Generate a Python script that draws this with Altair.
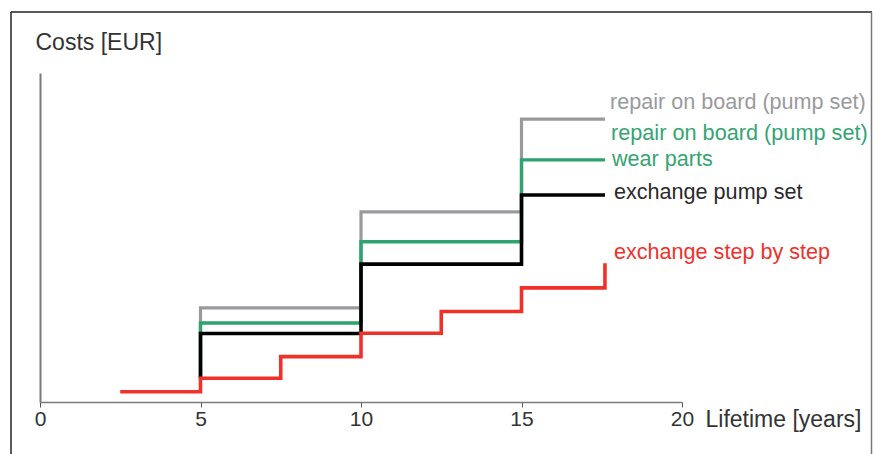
import altair as alt
import pandas as pd

# ---- data ----
gray_x = [5, 5, 10, 15, 17.6]
gray_y = [7.2, 28.6, 57.8, 86.0, 86.0]

green_x = [5, 5, 10, 15, 17.6]
green_y = [7.2, 24.0, 48.7, 73.6, 73.6]

black_x = [5, 5, 10, 15, 17.6]
black_y = [7.2, 20.8, 41.9, 62.9, 62.9]

red_x = [2.5, 5, 7.5, 10, 12.5, 15, 17.6]
red_y = [3.1, 7.2, 13.8, 20.9, 27.5, 34.7, 42.2]

x_ticks = [0, 5, 10, 15, 20]

FONT = "Liberation Sans"
GRAY = "#9a9a9e"
GREEN = "#2ea370"
BLACK = "#000000"
RED = "#f0312a"

W, H = 642, 329
PAD_L, PAD_T, PAD_R, PAD_B = 32, 65, 191, 52

xs = alt.Scale(domain=[0, 20], nice=False, zero=False)
ys = alt.Scale(domain=[0, 100], nice=False)


def series(xv, yv):
    return pd.DataFrame({"x": xv, "y": yv, "o": list(range(len(xv)))})


def step_line(df, color, width, axes=False):
    if axes:
        xenc = alt.X(
            "x:Q", scale=xs,
            axis=alt.Axis(
                values=x_ticks, format="d", grid=False,
                domainColor="#7a7a7a", domainWidth=1.5,
                tickColor="#555", tickSize=5, tickWidth=1,
                labelFont=FONT, labelFontSize=21, labelColor="#333",
                labelBaseline="middle", labelPadding=12,
                labelFlush=False,
                title="Lifetime [years]", titleFont=FONT, titleFontSize=23,
                titleFontWeight="normal", titleColor="#333",
                titleAlign="left", titleBaseline="middle",
                titleAnchor="start", titleX=665, titleY=17,
            ),
        )
        yenc = alt.Y(
            "y:Q", scale=ys,
            axis=alt.Axis(
                grid=False, ticks=False, labels=False,
                domainColor="#7a7a7a", domainWidth=2,
                title="Costs [EUR]", titleFont=FONT, titleFontSize=23,
                titleFontWeight="normal", titleColor="#333",
                titleAngle=0, titleAlign="left", titleBaseline="middle",
                titleX=-5, titleY=-31,
            ),
        )
    else:
        xenc = alt.X("x:Q", scale=xs)
        yenc = alt.Y("y:Q", scale=ys)
    return (
        alt.Chart(df)
        .mark_line(interpolate="step-after", color=color, strokeWidth=width,
                   strokeCap="butt", strokeJoin="miter")
        .encode(x=xenc, y=yenc, order="o:Q")
    )


def end_label(xv, yv, text, color, dx, dy, size=21.6):
    df = pd.DataFrame({"x": [xv[-1]], "y": [yv[-1]], "t": [text]})
    return (
        alt.Chart(df)
        .mark_text(align="left", baseline="middle", dx=dx, dy=dy,
                   font=FONT, fontSize=size, color=color)
        .encode(x=alt.X("x:Q", scale=xs), y=alt.Y("y:Q", scale=ys), text="t:N")
    )


gray_df = series(gray_x, gray_y)
green_df = series(green_x, green_y)
black_df = series(black_x, black_y)
red_df = series(red_x, red_y)

# frame around the figure (decoration)
one = pd.DataFrame({"a": [0]})
frame_left = alt.Chart(one).mark_rule(color="#222", strokeWidth=1.5).encode(
    x=alt.value(-29), y=alt.value(-61), y2=alt.value(400))
frame_top = alt.Chart(one).mark_rule(color="#222", strokeWidth=1.5).encode(
    x=alt.value(-29), x2=alt.value(832), y=alt.value(-61))
frame_right = alt.Chart(one).mark_rule(color="#777", strokeWidth=1.5).encode(
    x=alt.value(831.5), y=alt.value(-61), y2=alt.value(400))

chart = alt.layer(
    frame_left, frame_top, frame_right,
    step_line(gray_df, GRAY, 3.2, axes=True),
    step_line(green_df, GREEN, 3.4),
    step_line(black_df, BLACK, 3.6),
    step_line(red_df, RED, 3.6),
    end_label(gray_x, gray_y, "repair on board (pump set)", GRAY, 5, -16),
    end_label(green_x, green_y, "repair on board (pump set)", "#35a572", 6, -27, size=21.7),
    end_label(green_x, green_y, "wear parts", "#35a572", 7, 0),
    end_label(black_x, black_y, "exchange pump set", "#2a2a2a", 9, -2),
    end_label(red_x, red_y, "exchange step by step", RED, 9, -10),
).properties(
    width=W, height=H,
    autosize=alt.AutoSizeParams(type="none"),
    padding={"left": PAD_L, "top": PAD_T, "right": PAD_R, "bottom": PAD_B},
).configure_view(stroke=None)

chart.save("out.html", embed_options={"renderer": "svg", "actions": False})
